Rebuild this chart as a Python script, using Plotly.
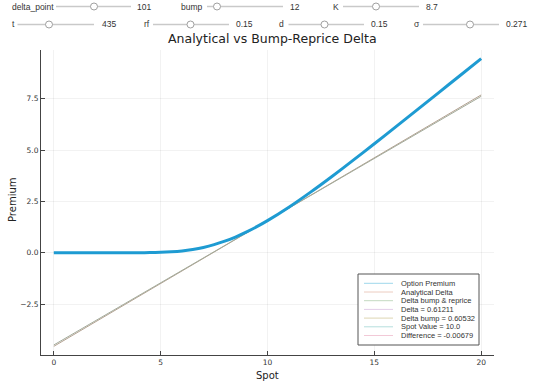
import plotly.graph_objects as go

# ---------------- data ----------------
spot = [0, 1, 2, 3, 4, 4.5, 5, 5.5, 6, 6.5, 7, 7.5, 8, 8.5, 9, 9.5, 10,
        11, 12, 13, 14, 15, 16, 17, 18, 19, 20]
premium = [0.0, 0.0, 0.0, 0.0, 0.002, 0.007, 0.019, 0.045, 0.088, 0.159, 0.258,
           0.392, 0.561, 0.765, 1.001, 1.268, 1.562,
           2.216, 2.937, 3.701, 4.494, 5.305, 6.126, 6.953, 7.784, 8.618, 9.452]
line_x = [0, 20]
analytical_y = [-4.559, 7.683]
bump_y = [-4.491, 7.615]

legend_labels = ["Option Premium", "Analytical Delta", "Delta bump & reprice",
                 "Delta = 0.61211", "Delta bump = 0.60532", "Spot Value = 10.0",
                 "Difference = -0.00679"]
legend_colors = ["#9ed8ec", "#ecccc0", "#c3d9c0", "#e2cde8", "#ddd5b2",
                 "#b5dedd", "#f2c9d7"]

slider_labels = ["delta_point", "bump", "K", "t", "rf", "d", "σ"]
slider_values = ["101", "12", "8.7", "435", "0.15", "0.15", "0.271"]

x_ticks = [0, 5, 10, 15, 20]
y_ticks = [-2.5, 0, 2.5, 5, 7.5]

title = "Analytical vs Bump-Reprice Delta"
x_title = "Spot"
y_title = "Premium"

# ---------------- layout helpers ----------------
W, H = 540, 383
PL, PR, PT, PB = 41, 494, 50, 355


def px(x):
    return (x - PL) / (PR - PL)


def py(y):
    return (PB - y) / (PB - PT)


fig = go.Figure()
fig.add_trace(go.Scatter(x=line_x, y=analytical_y, mode="lines",
                         line=dict(color="#b3a191", width=1), showlegend=False))
fig.add_trace(go.Scatter(x=line_x, y=bump_y, mode="lines",
                         line=dict(color="#a3ab9b", width=1), showlegend=False))
fig.add_trace(go.Scatter(x=spot, y=premium, mode="lines",
                         line=dict(color="#1e9bd2", width=3, shape="spline", smoothing=0.6),
                         showlegend=False))

shapes = []
annotations = []
font_ui = "Liberation Sans, Arial, sans-serif"

# sliders: (label_x, rail_x0, rail_x1, knob_x, value_x, y)
slider_pos = [
    (9.5, 56, 131, 94, 135, 6.5),
    (179, 207, 283, 217, 288, 6.5),
    (331, 343, 419, 376, 424, 6.5),
    (10, 17.5, 94, 49, 100, 24.5),
    (142, 153, 229, 190.5, 234, 24.5),
    (277, 288.5, 364, 324.5, 369, 24.5),
    (412, 423, 499, 470, 503.5, 24.5),
]
for lab, val, (lx, r0, r1, kx, vx, yy) in zip(slider_labels, slider_values, slider_pos):
    annotations.append(dict(x=px(lx), y=py(yy), xref="paper", yref="paper", text=lab,
                            showarrow=False, xanchor="left", yanchor="middle",
                            font=dict(family=font_ui, size=8.5, color="#333")))
    annotations.append(dict(x=px(vx), y=py(yy), xref="paper", yref="paper", text=val,
                            showarrow=False, xanchor="left", yanchor="middle",
                            font=dict(family=font_ui, size=8.5, color="#333")))
    shapes.append(dict(type="line", xref="paper", yref="paper", x0=px(r0), x1=px(r1),
                       y0=py(yy), y1=py(yy), line=dict(color="#c9c9c9", width=1.5)))
    shapes.append(dict(type="circle", xref="paper", yref="paper",
                       x0=px(kx - 3.5), x1=px(kx + 3.5), y0=py(yy + 3.5), y1=py(yy - 3.5),
                       fillcolor="white", line=dict(color="#a0a0a0", width=1)))

# title & axis titles
annotations.append(dict(x=px(272), y=py(38.5), xref="paper", yref="paper", text=title,
                        showarrow=False, xanchor="center", yanchor="middle",
                        font=dict(family="DejaVu Sans, sans-serif", size=12.5, color="#222")))
annotations.append(dict(x=px(267), y=py(375), xref="paper", yref="paper", text=x_title,
                        showarrow=False, xanchor="center", yanchor="middle",
                        font=dict(family="DejaVu Sans, sans-serif", size=10, color="#222")))
annotations.append(dict(x=px(12), y=py(200), xref="paper", yref="paper", text=y_title,
                        showarrow=False, xanchor="center", yanchor="middle", textangle=-90,
                        font=dict(family="DejaVu Sans, sans-serif", size=10, color="#222")))

# legend box
shapes.append(dict(type="rect", xref="paper", yref="paper", x0=px(358), x1=px(479),
                   y0=py(345), y1=py(274), fillcolor="white",
                   line=dict(color="#555", width=1)))
leg_y = [283.3, 292.0, 300.7, 309.4, 318.1, 326.8, 335.5]
for lab, col, yy in zip(legend_labels, legend_colors, leg_y):
    shapes.append(dict(type="line", xref="paper", yref="paper", x0=px(364), x1=px(393),
                       y0=py(yy), y1=py(yy), line=dict(color=col, width=1)))
    annotations.append(dict(x=px(399), y=py(yy), xref="paper", yref="paper", text=lab,
                            showarrow=False, xanchor="left", yanchor="middle",
                            font=dict(family=font_ui, size=7.5, color="#333")))

axis_common = dict(showline=True, linecolor="#444", linewidth=1, mirror=False,
                   ticks="inside", ticklen=4, tickcolor="#444", zeroline=False,
                   showgrid=True, gridcolor="rgba(0,0,0,0.05)", gridwidth=1,
                   tickfont=dict(family="DejaVu Sans, sans-serif", size=7.5, color="#333"))

fig.update_layout(
    width=W, height=H,
    margin=dict(l=PL, r=W - PR, t=PT, b=H - PB, pad=0),
    paper_bgcolor="white", plot_bgcolor="white",
    showlegend=False,
    xaxis=dict(range=[-0.6, 20.6], tickvals=x_ticks, ticktext=[str(v) for v in x_ticks],
               **axis_common),
    yaxis=dict(range=[-4.98, 9.87], tickvals=y_ticks, tickformat=".1f", **axis_common),
    shapes=shapes,
    annotations=annotations,
)

fig.write_html("out.html", config={"displayModeBar": False},
               post_script="document.body.style.margin='0px';document.body.style.padding='0px';")
